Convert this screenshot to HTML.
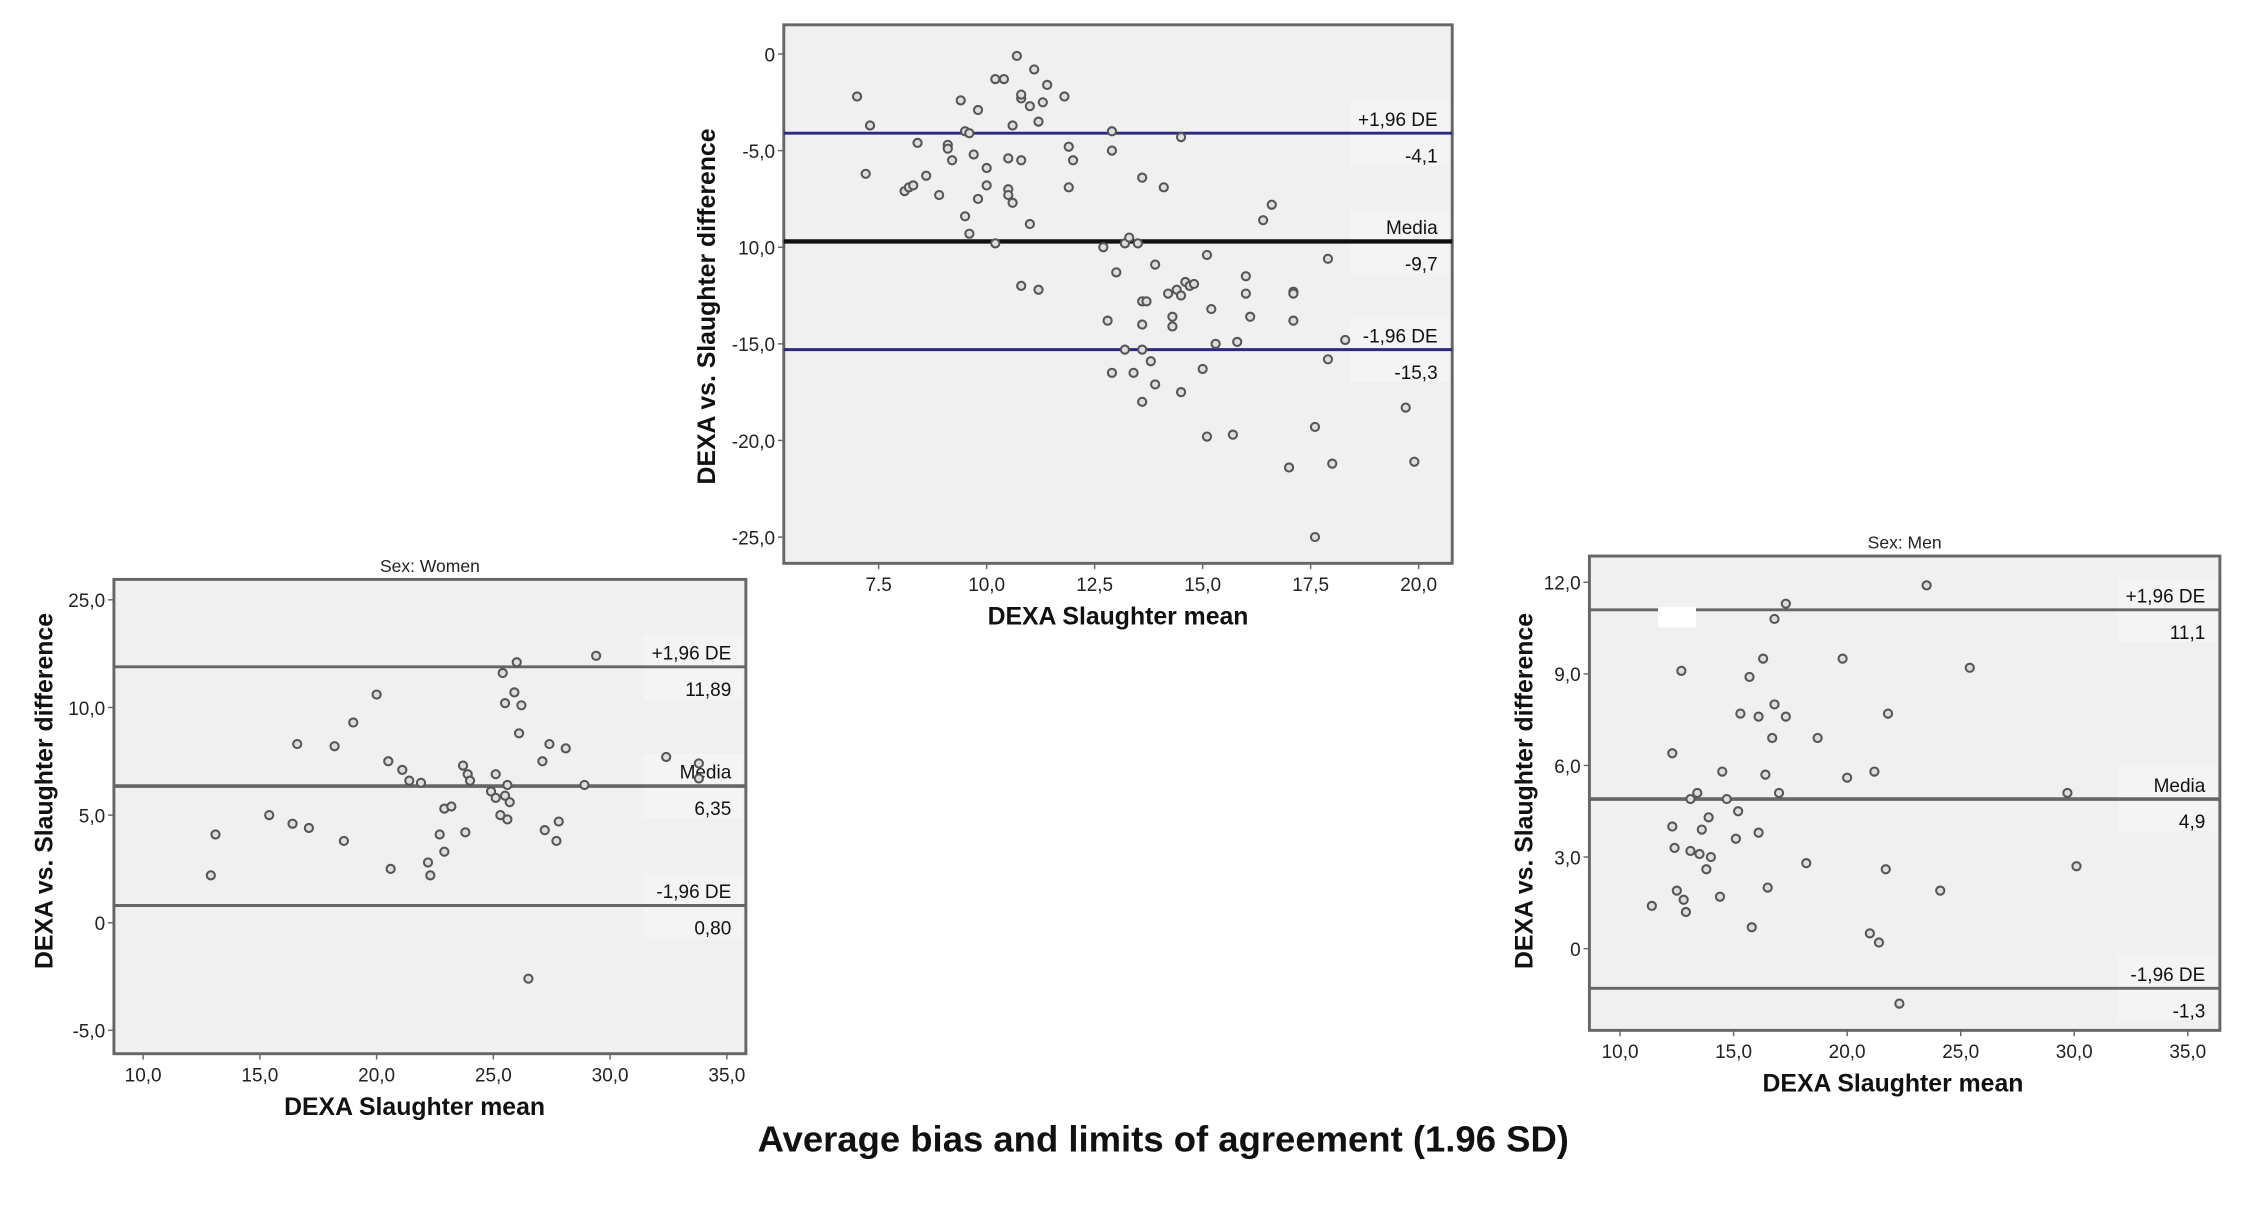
<!DOCTYPE html>
<html><head><meta charset="utf-8"><style>
html,body{margin:0;padding:0;background:#fff;width:2255px;height:1209px;overflow:hidden}
svg{display:block;font-family:"Liberation Sans",Arial,sans-serif}
</style></head><body>
<svg id="svg" width="2255" height="1209" viewBox="0 0 1545 828.4" xmlns="http://www.w3.org/2000/svg">
<text x="797" y="789" text-anchor="middle" font-size="25" font-weight="bold" fill="#111">Average bias and limits of agreement (1.96 SD)</text>
</svg>
<script>
// ---- Data ----
const topX=[7.0,7.2,7.3,8.1,8.2,8.3,8.4,8.6,8.9,9.1,9.1,9.2,9.4,9.5,9.5,9.6,9.6,9.7,9.8,9.8,10.0,10.0,10.2,10.2,10.4,10.5,10.5,10.5,10.6,10.6,10.7,10.8,10.8,10.8,10.8,11.0,11.0,11.1,11.2,11.2,11.3,11.4,11.8,11.9,11.9,12.0,12.7,12.8,12.9,12.9,12.9,13.0,13.2,13.2,13.3,13.4,13.5,13.6,13.6,13.6,13.6,13.6,13.7,13.8,13.9,13.9,14.1,14.2,14.3,14.3,14.4,14.5,14.5,14.5,14.6,14.7,14.8,15.0,15.1,15.1,15.2,15.3,15.7,15.8,16.0,16.0,16.1,16.4,16.6,17.0,17.1,17.1,17.1,17.6,17.6,17.9,17.9,18.0,18.3,19.7,19.9];
const topY=[-2.2,-6.2,-3.7,-7.1,-6.9,-6.8,-4.6,-6.3,-7.3,-4.7,-4.9,-5.5,-2.4,-8.4,-4.0,-4.1,-9.3,-5.2,-2.9,-7.5,-6.8,-5.9,-9.8,-1.3,-1.3,-5.4,-7.0,-7.3,-3.7,-7.7,-0.1,-2.3,-2.1,-5.5,-12.0,-2.7,-8.8,-0.8,-3.5,-12.2,-2.5,-1.6,-2.2,-4.8,-6.9,-5.5,-10.0,-13.8,-16.5,-4.0,-5.0,-11.3,-9.8,-15.3,-9.5,-16.5,-9.8,-15.3,-6.4,-12.8,-14.0,-18.0,-12.8,-15.9,-10.9,-17.1,-6.9,-12.4,-14.1,-13.6,-12.2,-4.3,-17.5,-12.5,-11.8,-12.0,-11.9,-16.3,-10.4,-19.8,-13.2,-15.0,-19.7,-14.9,-11.5,-12.4,-13.6,-8.6,-7.8,-21.4,-12.3,-12.4,-13.8,-19.3,-25.0,-10.6,-15.8,-21.2,-14.8,-18.3,-21.1];
const topLimits=[-4.1,-9.7,-15.3];
const topLimitLabels=["-4,1","-9,7","-15,3"];
const topYTicks=[0,-5,-10,-15,-20,-25];
const topYTickLabels=["0","-5,0","10,0","-15,0","-20,0","-25,0"];
const topXTicks=[7.5,10,12.5,15,17.5,20];
const topXTickLabels=["7.5","10,0","12,5","15,0","17,5","20,0"];

const womenX=[12.9,13.1,15.4,16.4,16.6,17.1,18.2,18.6,19.0,20.0,20.5,20.6,21.1,21.4,21.9,22.2,22.3,22.7,22.9,22.9,23.2,23.7,23.8,23.9,24.0,24.9,25.1,25.1,25.3,25.4,25.5,25.5,25.6,25.7,25.6,25.9,26.0,26.1,26.2,26.5,27.1,27.2,27.4,27.7,27.8,28.1,28.9,29.4,32.4,33.8,33.8];
const womenY=[2.2,4.1,5.0,4.6,8.3,4.4,8.2,3.8,9.3,10.6,7.5,2.5,7.1,6.6,6.5,2.8,2.2,4.1,5.3,3.3,5.4,7.3,4.2,6.9,6.6,6.1,6.9,5.8,5.0,11.6,10.2,5.9,4.8,5.6,6.4,10.7,12.1,8.8,10.1,-2.6,7.5,4.3,8.3,3.8,4.7,8.1,6.4,12.4,7.7,7.4,6.7];
const womenLimits=[11.89,6.35,0.80];
const womenLimitLabels=["11,89","6,35","0,80"];
const womenYTicks=[15,10,5,0,-5];
const womenYTickLabels=["25,0","10,0","5,0","0","-5,0"];
const sexXTicks=[10,15,20,25,30,35];
const sexXTickLabels=["10,0","15,0","20,0","25,0","30,0","35,0"];

const menX=[11.4,12.3,12.3,12.4,12.5,12.7,12.8,12.9,13.1,13.1,13.4,13.5,13.6,13.8,13.9,14.0,14.4,14.5,14.7,15.1,15.2,15.3,15.7,15.8,16.1,16.1,16.3,16.4,16.5,16.7,16.8,16.8,17.0,17.3,17.3,18.2,18.7,19.8,20.0,21.0,21.2,21.4,21.7,21.8,22.3,23.5,24.1,25.4,29.7,30.1];
const menY=[1.4,6.4,4.0,3.3,1.9,9.1,1.6,1.2,3.2,4.9,5.1,3.1,3.9,2.6,4.3,3.0,1.7,5.8,4.9,3.6,4.5,7.7,8.9,0.7,7.6,3.8,9.5,5.7,2.0,6.9,10.8,8.0,5.1,11.3,7.6,2.8,6.9,9.5,5.6,0.5,5.8,0.2,2.6,7.7,-1.8,11.9,1.9,9.2,5.1,2.7];
const menLimits=[11.1,4.9,-1.3];
const menLimitLabels=["11,1","4,9","-1,3"];
const menYTicks=[12,9,6,3,0];
const menYTickLabels=["12,0","9,0","6,0","3,0","0"];

const limitNames=["+1,96 DE","Media","-1,96 DE"];
const svg=document.getElementById('svg');
const NS="http://www.w3.org/2000/svg";
function mk(tag,attrs,parent,text){const e=document.createElementNS(NS,tag);for(const k in attrs)e.setAttribute(k,attrs[k]);if(text!==undefined)e.textContent=text;(parent||svg).appendChild(e);return e;}

function chart(cfg){
  const g=mk('g',{},svg);
  
  
  const sx=v=>cfg.px0+(v-cfg.x0)*(cfg.px1-cfg.px0)/(cfg.x1-cfg.x0);
  const sy=v=>cfg.py0+(v-cfg.y0)*(cfg.py1-cfg.py0)/(cfg.y1-cfg.y0);
  const bg=mk('rect',{x:cfg.L,y:cfg.T,width:cfg.R-cfg.L,height:cfg.B-cfg.T,fill:'#f0f0f0',stroke:'#666','stroke-width':2},g);
  
  
  if(cfg.title){const t=mk('text',{x:(cfg.L+cfg.R)/2,y:cfg.T-5,'text-anchor':'middle','font-size':12,fill:'#222'},g,cfg.title);
    }
  cfg.yt.forEach((v,i)=>{const y=sy(v);
    mk('line',{x1:cfg.L-4,x2:cfg.L,y1:y,y2:y,stroke:'#666'},g);
    const t=mk('text',{x:cfg.L-6,y:y+5,'text-anchor':'end','font-size':13,fill:'#222'},g,cfg.ytl[i]);
    });
  cfg.xt.forEach((v,i)=>{const x=sx(v);
    mk('line',{x1:x,x2:x,y1:cfg.B,y2:cfg.B+4,stroke:'#666'},g);
    const t=mk('text',{x:x,y:cfg.B+19,'text-anchor':'middle','font-size':13,fill:'#222'},g,cfg.xtl[i]);
    });
  cfg.lim.forEach((v,i)=>{const y=sy(v);
    const col=cfg.limColors[i];
    mk('rect',{x:cfg.R-70,y:y-22,width:68,height:44,fill:'#f4f4f4'},g);
    const l=mk('line',{x1:cfg.L,x2:cfg.R,y1:y,y2:y,stroke:col,'stroke-width':cfg.limW[i]},g);
    
    const a=mk('text',{x:cfg.R-10,y:y-5,'text-anchor':'end','font-size':13,fill:'#111'},g,limitNames[i]);
    
    const b=mk('text',{x:cfg.R-10,y:y+20,'text-anchor':'end','font-size':13,fill:'#111'},g,cfg.limL[i]);
    });
  cfg.X.forEach((v,i)=>{const c=mk('circle',{cx:sx(v),cy:sy(cfg.Y[i]),r:2.8,fill:'#ddd',stroke:'#555','stroke-width':1.4},g);
    });
  const xt=mk('text',{x:cfg.xtx,y:cfg.B+42,'text-anchor':'middle','font-size':17,'font-weight':'bold',fill:'#111'},g,'DEXA Slaughter mean');
  
  const yt=mk('text',{x:0,y:0,'text-anchor':'middle','font-size':17,'font-weight':'bold',fill:'#111',transform:`translate(${cfg.ytx},${cfg.yty}) rotate(-90)`},g,'DEXA vs. Slaughter difference');
  
  return g;
}
chart({name:'overall-chart',L:537,R:995,T:17,B:386,x0:7.5,x1:20,px0:602,px1:972,y0:0,y1:-25,py0:37,py1:368,
  xt:topXTicks,xtl:topXTickLabels,yt:topYTicks,ytl:topYTickLabels,lim:topLimits,limL:topLimitLabels,
  limColors:['#2a2a80','#111','#2a2a80'],limW:[2,3,2],X:topX,Y:topY,xtx:766,ytx:490,yty:210});
chart({name:'women-chart',title:'Sex: Women',L:78,R:511,T:397,B:722,x0:10,x1:35,px0:98,px1:498,y0:15,y1:-5,py0:411,py1:706,
  xt:sexXTicks,xtl:sexXTickLabels,yt:womenYTicks,ytl:womenYTickLabels,lim:womenLimits,limL:womenLimitLabels,
  limColors:['#666','#666','#666'],limW:[2,2.5,2],X:womenX,Y:womenY,xtx:284,ytx:36,yty:542});
chart({name:'men-chart',title:'Sex: Men',L:1089,R:1521,T:381,B:706,x0:10,x1:35,px0:1110,px1:1499,y0:12,y1:0,py0:399,py1:650,
  xt:sexXTicks,xtl:sexXTickLabels,yt:menYTicks,ytl:menYTickLabels,lim:menLimits,limL:menLimitLabels,
  limColors:['#666','#666','#666'],limW:[2,2.5,2],X:menX,Y:menY,xtx:1297,ytx:1050,yty:542});
const w=mk('rect',{x:1136,y:416,width:26,height:14,fill:'#fff'});


</script>
</body></html>
